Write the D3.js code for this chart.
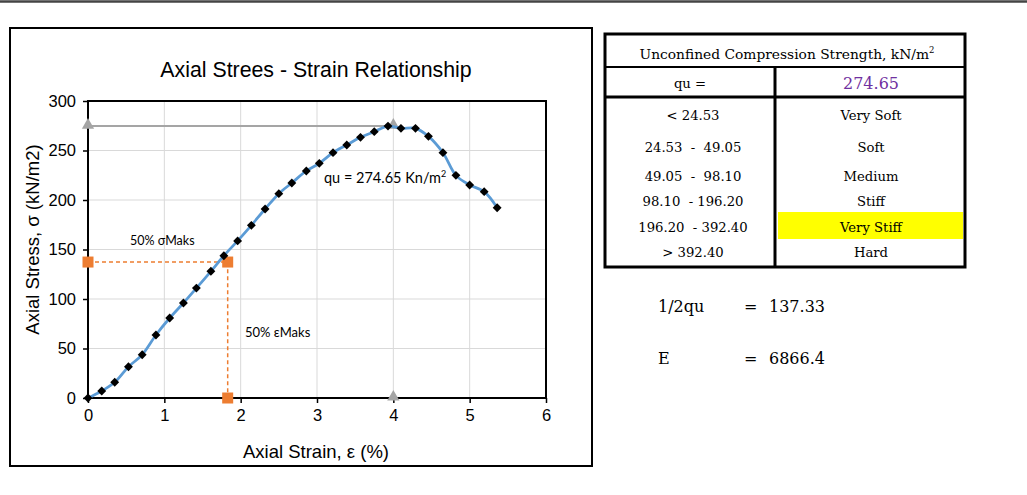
<!DOCTYPE html>
<html>
<head>
<meta charset="utf-8">
<script src="https://cdn.jsdelivr.net/npm/d3@7"></script>
<style>
  html, body { margin: 0; padding: 0; background: #fff; }
  svg { display: block; }
</style>
</head>
<body>
<svg id="chart" width="1027" height="495"></svg>
<script>
// Unconfined compression test: strain (%) vs axial stress (kN/m2)
const strain = [0, 0.18, 0.35, 0.53, 0.71, 0.89, 1.07, 1.25, 1.42, 1.61, 1.78, 1.96, 2.14, 2.32, 2.50, 2.67, 2.86, 3.03, 3.21, 3.39, 3.57, 3.75, 3.93, 4.10, 4.29, 4.46, 4.65, 4.82, 5.00, 5.19, 5.36];
const stress = [0, 7.1, 15.9, 31.6, 43.7, 63.6, 80.8, 96.0, 111.0, 128.0, 143.7, 158.7, 174.4, 190.9, 206.4, 217.2, 229.3, 237.0, 247.8, 255.6, 263.3, 269.0, 274.65, 272.4, 272.4, 264.3, 247.8, 224.9, 215.2, 208.4, 192.2];

// Peak (qu) guide and 50% guide
const quValue = 274.65;
const quStrainMark = 4.0;
const halfQu = 137.33;
const halfStrain = 1.83;
const modulusE = 6866.4;

const xTicks = [0, 1, 2, 3, 4, 5, 6];
const yTicks = [0, 50, 100, 150, 200, 250, 300];

// Consistency classes
const classRanges = ["< 24.53", "24.53  -  49.05", "49.05  -  98.10", "98.10  - 196.20", "196.20  - 392.40", "> 392.40"];
const classNames = ["Very Soft", "Soft", "Medium", "Stiff", "Very Stiff", "Hard"];
const activeClass = "Very Stiff";

const svg = d3.select("#chart");
const sans = "'Liberation Sans', Arial, sans-serif";
const body = "Lato, 'Open Sans', sans-serif";
const serif = "'DejaVu Serif', 'Liberation Serif', serif";

// page rule at top
svg.append("line").attr("x1", 0).attr("x2", 1027).attr("y1", 1.5).attr("y2", 1.5)
  .attr("stroke", "#444").attr("stroke-width", 2.5);

// chart frame
svg.append("rect").attr("x", 10).attr("y", 28).attr("width", 582).attr("height", 438)
  .attr("fill", "#fff").attr("stroke", "#000").attr("stroke-width", 2);

const plot = { left: 88, right: 546, top: 101, bottom: 398 };
const x = d3.scaleLinear().domain([0, 6]).range([plot.left, plot.right]);
const y = d3.scaleLinear().domain([0, 300]).range([plot.bottom, plot.top]);

// gridlines
const g = svg.append("g");
g.selectAll(".vg").data(xTicks).join("line")
  .attr("x1", d => x(d)).attr("x2", d => x(d)).attr("y1", plot.top).attr("y2", plot.bottom)
  .attr("stroke", "#d9d9d9").attr("stroke-width", 1);
g.selectAll(".hg").data(yTicks).join("line")
  .attr("x1", plot.left).attr("x2", plot.right).attr("y1", d => y(d)).attr("y2", d => y(d))
  .attr("stroke", "#d9d9d9").attr("stroke-width", 1);

// axes
const xAxis = svg.append("g").attr("transform", `translate(0,${plot.bottom})`)
  .call(d3.axisBottom(x).tickValues(xTicks).tickSize(5).tickPadding(6).tickFormat(d3.format("d")));
const yAxis = svg.append("g").attr("transform", `translate(${plot.left},0)`)
  .call(d3.axisLeft(y).tickValues(yTicks).tickSize(5).tickPadding(7).tickFormat(d3.format("d")));
[xAxis, yAxis].forEach(a => {
  a.select(".domain").remove();
  a.selectAll("line").attr("stroke", "#000").attr("stroke-width", 1.5);
  a.selectAll("text").attr("font-family", sans).attr("font-size", 16.5).attr("fill", "#000");
});

// plot border
svg.append("rect").attr("x", plot.left).attr("y", plot.top)
  .attr("width", plot.right - plot.left).attr("height", plot.bottom - plot.top)
  .attr("fill", "none").attr("stroke", "#000").attr("stroke-width", 2);

// title and axis titles
svg.append("text").attr("x", 316).attr("y", 77).attr("text-anchor", "middle")
  .attr("font-family", sans).attr("font-size", 21.3).text("Axial Strees - Strain Relationship");
svg.append("text").attr("x", 316).attr("y", 458).attr("text-anchor", "middle")
  .attr("font-family", sans).attr("font-size", 18.5).text("Axial Strain, ε (%)");
svg.append("text").attr("transform", `translate(39,${(plot.top + plot.bottom) / 2 - 10}) rotate(-90)`)
  .attr("text-anchor", "middle").attr("font-family", sans).attr("font-size", 18.5)
  .text("Axial Stress, σ (kN/m2)");

// qu guide (grey)
const quLine = [[0, quValue], [quStrainMark, quValue]];
svg.append("path").datum(quLine)
  .attr("d", d3.line().x(d => x(d[0])).y(d => y(d[1])))
  .attr("fill", "none").attr("stroke", "#a5a5a5").attr("stroke-width", 2);
const tri = d3.symbol().type(d3.symbolTriangle).size(65);
svg.selectAll(".tri").data([[0, quValue], [quStrainMark, quValue], [quStrainMark, 0]]).join("path")
  .attr("d", tri).attr("transform", d => `translate(${x(d[0])},${y(d[1]) - 1})`)
  .attr("fill", "#a5a5a5");

// 50% guide (orange, dashed)
const halfLine = [[0, halfQu], [halfStrain, halfQu], [halfStrain, 0]];
svg.append("path").datum(halfLine)
  .attr("d", d3.line().x(d => x(d[0])).y(d => y(d[1])))
  .attr("fill", "none").attr("stroke", "#ed7d31").attr("stroke-width", 1.5)
  .attr("stroke-dasharray", "4,3");
svg.selectAll(".sq").data(halfLine).join("rect")
  .attr("x", d => x(d[0]) - 5.5).attr("y", d => y(d[1]) - 5.5)
  .attr("width", 11).attr("height", 11).attr("fill", "#ed7d31");

// stress–strain curve
const pts = strain.map((s, i) => [s, stress[i]]);
svg.append("path").datum(pts)
  .attr("d", d3.line().x(d => x(d[0])).y(d => y(d[1])).curve(d3.curveCatmullRom.alpha(0.5)))
  .attr("fill", "none").attr("stroke", "#5b9bd5").attr("stroke-width", 2.75);
const diamond = d3.symbol().type(d3.symbolDiamond2).size(50);
svg.selectAll(".pt").data(pts).join("path")
  .attr("d", diamond).attr("transform", d => `translate(${x(d[0])},${y(d[1])})`)
  .attr("fill", "#000");

// annotations
svg.append("text").attr("x", 130).attr("y", 245).attr("font-family", body).attr("font-size", 12.5)
  .text("50% σMaks");
svg.append("text").attr("x", 245).attr("y", 337).attr("font-family", body).attr("font-size", 13)
  .text("50% εMaks");
const quLabel = svg.append("text").attr("x", 324).attr("y", 183).attr("font-family", body).attr("font-size", 14.5);
quLabel.append("tspan").text(`qu = ${quValue} Kn/m`);
quLabel.append("tspan").attr("font-size", 9).attr("dy", -6).text("2");

// ---- classification table ----
const T = { left: 605, right: 965, top: 34, bottom: 267, split: 775 };
const rowY = [115, 146.5, 175.5, 201, 227, 252];
svg.append("rect").attr("x", 778).attr("y", 212).attr("width", 185).attr("height", 27)
  .attr("fill", d => classNames.includes(activeClass) ? "#ffff00" : "none");
svg.append("rect").attr("x", T.left).attr("y", T.top).attr("width", T.right - T.left)
  .attr("height", T.bottom - T.top).attr("fill", "none").attr("stroke", "#000").attr("stroke-width", 3);
svg.append("line").attr("x1", T.left).attr("x2", T.right).attr("y1", 67).attr("y2", 67)
  .attr("stroke", "#000").attr("stroke-width", 2);
svg.append("line").attr("x1", T.left).attr("x2", T.right).attr("y1", 97).attr("y2", 97)
  .attr("stroke", "#000").attr("stroke-width", 3);
svg.append("line").attr("x1", T.split).attr("x2", T.split).attr("y1", 67).attr("y2", T.bottom)
  .attr("stroke", "#000").attr("stroke-width", 3);

const hdr = svg.append("text").attr("x", 787).attr("y", 59).attr("text-anchor", "middle")
  .attr("font-family", serif).attr("font-size", 13.8);
hdr.append("tspan").text("Unconfined Compression Strength, kN/m");
hdr.append("tspan").attr("font-size", 8.5).attr("dy", -6).text("2");

svg.append("text").attr("x", 690).attr("y", 88).attr("text-anchor", "middle")
  .attr("font-family", serif).attr("font-size", 13.2).text("qu =");
svg.append("text").attr("x", 871).attr("y", 89).attr("text-anchor", "middle")
  .attr("font-family", serif).attr("font-size", 16).attr("fill", "#7030a0").text(quValue.toFixed(2));

svg.selectAll(".rng").data(classRanges).join("text")
  .attr("x", 693).attr("y", (d, i) => rowY[i] + 5).attr("text-anchor", "middle")
  .attr("font-family", serif).attr("font-size", 13.2)
  .style("white-space", "pre").text(d => d);
svg.selectAll(".cls").data(classNames).join("text")
  .attr("x", 871).attr("y", (d, i) => rowY[i] + 5).attr("text-anchor", "middle")
  .attr("font-family", serif).attr("font-size", 13.2).text(d => d);

// derived values
const derived = [["1/2qu", halfQu.toFixed(2), 312], ["E", modulusE.toFixed(1), 364]];
derived.forEach(([k, v, yy]) => {
  svg.append("text").attr("x", 658).attr("y", yy).attr("font-family", serif).attr("font-size", 16).text(k);
  svg.append("text").attr("x", 744).attr("y", yy).attr("font-family", serif).attr("font-size", 16).text("=");
  svg.append("text").attr("x", 769).attr("y", yy).attr("font-family", serif).attr("font-size", 16).text(v);
});
</script>
</body>
</html>
